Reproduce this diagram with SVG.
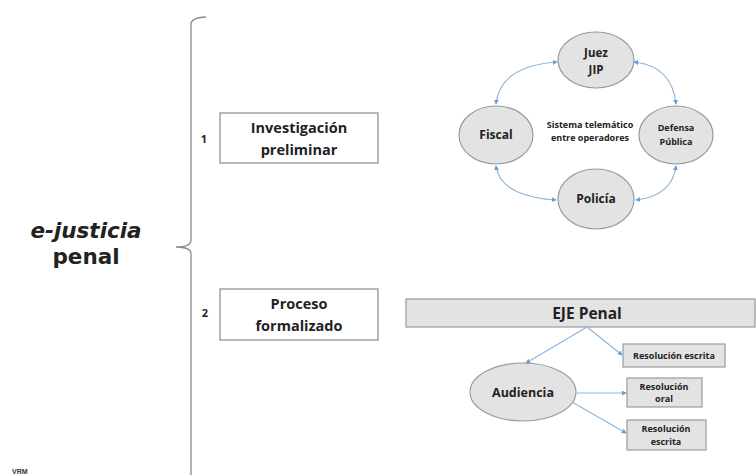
<svg xmlns="http://www.w3.org/2000/svg" width="756" height="475" viewBox="0 0 756 475">
<style>
.t{font-family:"Open Sans","Liberation Sans",sans-serif;font-weight:bold;fill:#222;text-anchor:middle}
.box{fill:#fff;stroke:#888;stroke-width:1.2}
.g{fill:#e3e3e3;stroke:#9a9a9a;stroke-width:1.2}
.c{fill:none;stroke:#8fb6dd;stroke-width:1.2}
</style>
<defs>
<marker id="a" viewBox="0 0 6 6" refX="5" refY="3" markerWidth="5" markerHeight="5" orient="auto-start-reverse" markerUnits="userSpaceOnUse">
<path d="M0,0 L6,3 L0,6 z" fill="#6a9fd4"/>
</marker>
</defs>
<rect width="756" height="475" fill="#fff"/>
<g id="brace">
<path d="M206,17 Q191,18 191,24 L191,240 Q191,247 176,247 Q191,247 191,254 L191,475" fill="none" stroke="#8a8a8a" stroke-width="1.3"/>
</g>
<g id="title">
<text x="86" y="238" font-family="'DejaVu Sans',Verdana,sans-serif" font-weight="bold" font-style="italic" font-size="21.5" fill="#222" text-anchor="middle">e-justicia</text>
<text x="86" y="264" font-family="'DejaVu Sans',Verdana,sans-serif" font-weight="bold" font-size="21.5" fill="#222" text-anchor="middle">penal</text>
</g>
<g id="vrm"><text x="12" y="474" font-family="'Liberation Sans',sans-serif" font-weight="bold" font-size="7" fill="#333">VRM</text></g>
<g id="step1">
<text class="t" x="204" y="143" font-size="11">1</text>
<rect class="box" x="220" y="113" width="158" height="50"/>
<text class="t" x="299" y="133" font-size="14.5">Investigación</text>
<text class="t" x="299" y="155" font-size="14.5">preliminar</text>
</g>
<g id="step2">
<text class="t" x="205" y="317" font-size="11">2</text>
<rect class="box" x="220" y="289" width="158" height="51"/>
<text class="t" x="299" y="309" font-size="14.5">Proceso</text>
<text class="t" x="299" y="331" font-size="14.5">formalizado</text>
</g>
<g id="juez">
<ellipse class="g" cx="596" cy="60" rx="38" ry="28"/>
<text class="t" x="596" y="57" font-size="11.5">Juez</text>
<text class="t" x="596" y="74" font-size="11.5">JIP</text>
</g>
<g id="fiscal">
<ellipse class="g" cx="496" cy="135" rx="37" ry="29"/>
<text class="t" x="496" y="139" font-size="12">Fiscal</text>
</g>
<g id="defensa">
<ellipse class="g" cx="676" cy="135" rx="37" ry="29"/>
<text class="t" x="676" y="131" font-size="9">Defensa</text>
<text class="t" x="676" y="145" font-size="9">Pública</text>
</g>
<g id="policia">
<ellipse class="g" cx="596" cy="199" rx="38" ry="30"/>
<text class="t" x="596" y="203" font-size="12">Policía</text>
</g>
<g id="sistema">
<text class="t" x="590" y="128" font-size="9">Sistema telemático</text>
<text class="t" x="590" y="141" font-size="9">entre operadores</text>
</g>
<g id="eje">
<rect class="g" x="406" y="299" width="349" height="28"/>
<text class="t" x="587" y="319" font-size="15.5">EJE Penal</text>
</g>
<g id="res1">
<rect class="g" x="623" y="344" width="102" height="23"/>
<text class="t" x="674" y="359" font-size="9">Resolución escrita</text>
</g>
<g id="audiencia">
<ellipse class="g" cx="523" cy="392" rx="53" ry="29"/>
<text class="t" x="523" y="397" font-size="12.5">Audiencia</text>
</g>
<g id="res2">
<rect class="g" x="627" y="378" width="75" height="29"/>
<text class="t" x="664" y="390" font-size="9">Resolución</text>
<text class="t" x="664" y="402" font-size="9">oral</text>
</g>
<g id="res3">
<rect class="g" x="627" y="420" width="79" height="30"/>
<text class="t" x="666" y="432" font-size="9">Resolución</text>
<text class="t" x="666" y="445" font-size="9">escrita</text>
</g>
<g id="connectors">
<path class="c" d="M557,62 Q500,66 496,104" marker-start="url(#a)" marker-end="url(#a)"/>
<path class="c" d="M634,62 Q672,66 676,104" marker-start="url(#a)" marker-end="url(#a)"/>
<path class="c" d="M496,166 Q500,196 556,200" marker-start="url(#a)" marker-end="url(#a)"/>
<path class="c" d="M676,166 Q672,196 636,200" marker-start="url(#a)" marker-end="url(#a)"/>
<path class="c" d="M587,327 L526,363" marker-end="url(#a)"/>
<path class="c" d="M587,327 L622,355" marker-end="url(#a)"/>
<path class="c" d="M577,393 L626,393" marker-end="url(#a)"/>
<path class="c" d="M572,402 L626,433" marker-end="url(#a)"/>
</g>
</svg>
